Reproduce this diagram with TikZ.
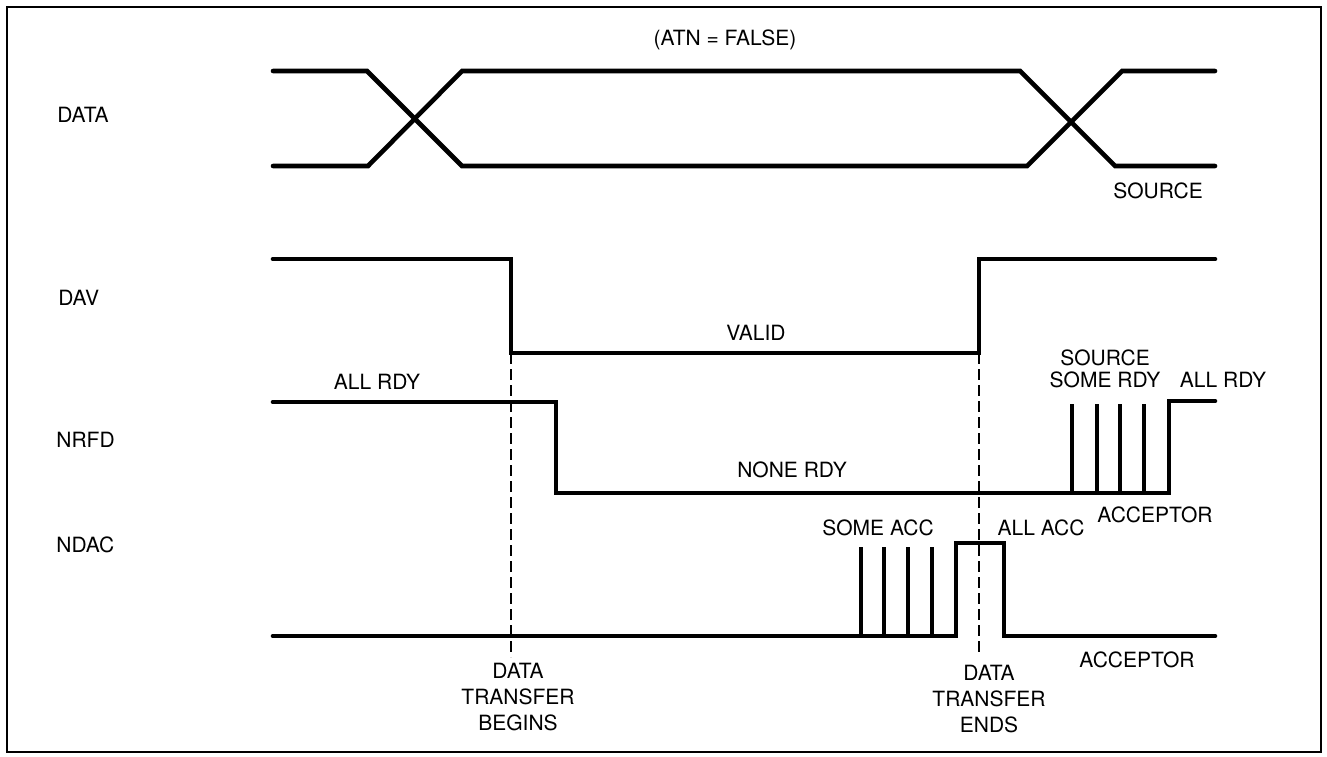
\documentclass[tikz,border=0pt]{standalone}
\usepackage{fontspec}
\setmainfont{TeX Gyre Heros}
\begin{document}
\begin{tikzpicture}[x=0.5pt,y=-0.5pt,
		signal/.style={black, line width=2.3pt, line cap=round, line join=miter},
		spike/.style={black, line width=1.8pt},
		marker/.style={black, line width=1.1pt, dash pattern=on 5.5pt off 2.5pt},
		lbl/.style={inner sep=0pt, font=\fontsize{10.5}{13}\selectfont}]
	\useasboundingbox (0,0) rectangle (1327,756);
	\draw[black, line width=1pt] (7,7) rectangle (1321,752);
	% DATA
	\draw[signal] (273,71) -- (367,71) -- (462,166) -- (1027,166) -- (1122,71) -- (1215,71);
	\draw[signal] (273,166) -- (368,166) -- (462,71) -- (1020,71) -- (1115,166) -- (1215,166);
	% DAV
	\draw[signal] (273,259) -- (511,259) -- (511,353) -- (979,353) -- (979,259) -- (1215,259);
	% NRFD
	\draw[signal] (273,402) -- (556,402) -- (556,493) -- (1169,493) -- (1169,401) -- (1215,401);
	\foreach \x in {1072,1097,1120,1144}
		\draw[spike] (\x,493) -- (\x,404);
	% NDAC
	\draw[signal] (273,636) -- (956,636) -- (956,543) -- (1004,543) -- (1004,636) -- (1215,636);
	\foreach \x in {861,884,908,932}
		\draw[spike] (\x,636) -- (\x,547);
	% transfer markers
	\coordinate (begin top) at (511,353);
	\coordinate (begin bot) at (511,657);
	\coordinate (end top) at (979,353);
	\coordinate (end bot) at (979,655);
	\draw[marker] (begin top) -- (begin bot);
	\draw[marker] (end top) -- (end bot);
	% labels
	\node[lbl, anchor=base] (atn) at (725,45) {(ATN = FALSE)};
	\node[lbl, anchor=base west] (data) at (57,122) {DATA};
	\node[lbl, anchor=base west] (dav) at (58,305) {DAV};
	\node[lbl, anchor=base west] (nrfd) at (56,447) {NRFD};
	\node[lbl, anchor=base west] (ndac) at (56,552) {NDAC};
	\node[lbl, anchor=base] (source) at (1158,198) {SOURCE};
	\node[lbl, anchor=base] (valid) at (756,340) {VALID};
	\node[lbl, anchor=base] (allrdy) at (377,389) {ALL RDY};
	\node[lbl, anchor=base] (rdysource) at (1105,365) {SOURCE};
	\node[lbl, anchor=base] (somerdy) at (1105,387) {SOME RDY};
	\node[lbl, anchor=base] (allrdyb) at (1223,387) {ALL RDY};
	\node[lbl, anchor=base] (nonerdy) at (792,477) {NONE RDY};
	\node[lbl, anchor=base] (someacc) at (878,535) {SOME ACC};
	\node[lbl, anchor=base] (allacc) at (1041,535) {ALL ACC};
	\node[lbl, anchor=base] (accnrfd) at (1155,522) {ACCEPTOR};
	\node[lbl, anchor=base] (accndac) at (1137,667) {ACCEPTOR};
	\node[lbl, anchor=north, align=center] (begins) at (518,663) {DATA\\TRANSFER\\BEGINS};
	\node[lbl, anchor=north, align=center] (ends) at (989,665) {DATA\\TRANSFER\\ENDS};
\end{tikzpicture}
\end{document}
